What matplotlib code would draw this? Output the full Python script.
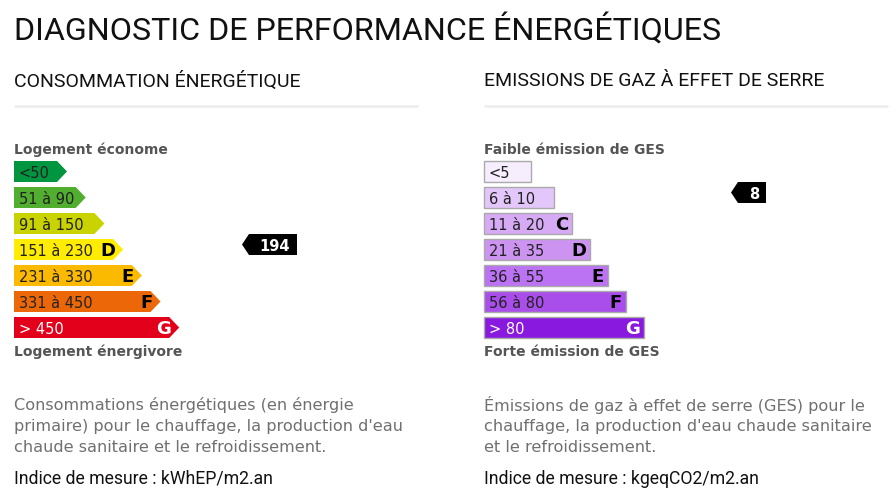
import matplotlib

matplotlib.use("Agg")
import matplotlib.pyplot as plt
from matplotlib.patches import Polygon

# energy consumption classes (kWhEP/m2.an)
energy_ranges = ["<50", "51 à 90", "91 à 150", "151 à 230", "231 à 330", "331 à 450", "> 450"]
energy_letters = ["", "", "", "D", "E", "F", "G"]
energy_colors = ["#00963f", "#51ae2f", "#c9d300", "#ffec00", "#fbb900", "#ec6708", "#e2001a"]
energy_value = 194
energy_class = 3

# greenhouse gas classes (kgeqCO2/m2.an)
ges_ranges = ["<5", "6 à 10", "11 à 20", "21 à 35", "36 à 55", "56 à 80", "> 80"]
ges_letters = ["", "", "C", "D", "E", "F", "G"]
ges_colors = ["#f6edfd", "#e4c7fa", "#d6aaf4", "#cc93f1", "#bb72f3", "#a94deb", "#8a19df"]
ges_value = 8
ges_class = 1

W, H = 895, 502
fig = plt.figure(figsize=(W / 100, H / 100), dpi=100)
ax = fig.add_axes([0, 0, 1, 1])
ax.set_xlim(0, W)
ax.set_ylim(H, 0)
ax.axis("off")

head_font = "Roboto"
body_font = "DejaVu Sans"

ax.text(14, 30, "DIAGNOSTIC DE PERFORMANCE ÉNERGÉTIQUES", fontsize=23.2,
        family=head_font, va="center", ha="left", color="#111111")

row_top = 162
row_h = 21
pitch = 26


def panel(x0, title, top_label, bottom_label, ranges, letters, colors,
          value, cls, arrow, desc, unit, marker_x):
    ax.text(x0, 81, title, fontsize=14, family=head_font, va="center",
            ha="left", color="#111111")
    ax.plot([x0, x0 + 404], [107, 107], color="#eeeeee", lw=2,
            solid_capstyle="butt")
    ax.text(x0, 150, top_label, fontsize=10, fontweight="bold", family=body_font,
            va="center", ha="left", color="#555555")
    n = len(ranges)
    for i in range(n):
        y0 = row_top + i * pitch
        if arrow:
            body = 43 + 18.7 * i
            tip = 10
            pts = [(x0, y0), (x0 + body, y0), (x0 + body + tip, y0 + row_h / 2),
                   (x0 + body, y0 + row_h), (x0, y0 + row_h)]
            ax.add_patch(Polygon(pts, closed=True, facecolor=colors[i],
                                 edgecolor="none"))
            right = x0 + body + 2
        else:
            if i == 0:
                body = 47
            else:
                body = 70 + 18 * (i - 1)
            ax.barh(y0 + row_h / 2, body, height=row_h, left=x0,
                    color=colors[i], edgecolor="#aaaaaa", linewidth=1)
            right = x0 + body - 4
        tc = "white" if i == n - 1 else "#222222"
        ax.text(x0 + 5, y0 + row_h / 2 + 1, ranges[i], fontsize=10.5,
                family=body_font, va="center", ha="left", color=tc)
        if letters[i]:
            ax.text(right, y0 + row_h / 2 + 1, letters[i], fontsize=13,
                    fontweight="bold", family=body_font, va="center", ha="right",
                    color="white" if i == n - 1 else "black")
    ax.text(x0, 352, bottom_label, fontsize=10, fontweight="bold",
            family=body_font, va="center", ha="left", color="#555555")

    # value marker
    my = row_top + cls * pitch + row_h / 2 - 5
    lbl = str(value)
    mw = 48 if len(lbl) > 1 else 28
    mh = 21
    pts = [(marker_x, my), (marker_x + 7, my - mh / 2), (marker_x + 7 + mw, my - mh / 2),
           (marker_x + 7 + mw, my + mh / 2), (marker_x + 7, my + mh / 2)]
    ax.add_patch(Polygon(pts, closed=True, facecolor="black", edgecolor="none"))
    ax.text(marker_x + 7 + mw / 2 + 2, my + 1, lbl, fontsize=10.5, fontweight="bold",
            family=body_font, va="center", ha="center", color="white")

    for j, line in enumerate(desc):
        ax.text(x0, 405 + j * 21.5, line, fontsize=11.6, family=body_font,
                va="center", ha="left", color="#707070")
    ax.text(x0, 479, unit, fontsize=12.7, family=head_font, va="center",
            ha="left", color="#111111")


panel(14, "CONSOMMATION ÉNERGÉTIQUE", "Logement économe", "Logement énergivore",
      energy_ranges, energy_letters, energy_colors, energy_value, energy_class, True,
      ["Consommations énergétiques (en énergie",
       "primaire) pour le chauffage, la production d'eau",
       "chaude sanitaire et le refroidissement."],
      "Indice de mesure : kWhEP/m2.an", 242)

panel(484, "EMISSIONS DE GAZ À EFFET DE SERRE", "Faible émission de GES",
      "Forte émission de GES",
      ges_ranges, ges_letters, ges_colors, ges_value, ges_class, False,
      ["Émissions de gaz à effet de serre (GES) pour le",
       "chauffage, la production d'eau chaude sanitaire",
       "et le refroidissement."],
      "Indice de mesure : kgeqCO2/m2.an", 731)

fig.savefig("out.png", dpi=100)
